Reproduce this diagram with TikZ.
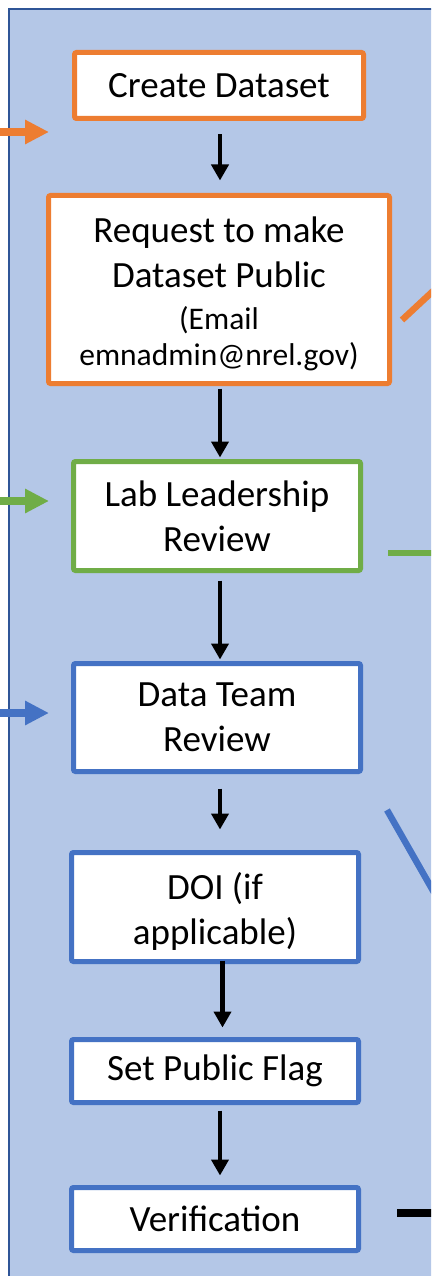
\documentclass[tikz,border=0pt]{standalone}
\usepackage{fontspec}
\setmainfont{Carlito}
\usetikzlibrary{arrows.meta}
\definecolor{panelfill}{HTML}{B4C7E7}
\definecolor{panelline}{HTML}{2F5597}
\definecolor{orng}{HTML}{ED7D31}
\definecolor{grn}{HTML}{70AD47}
\definecolor{blu}{HTML}{4472C4}
\newcommand{\bigf}{\fontsize{37}{45}\selectfont}
\newcommand{\smallf}{\fontsize{31.5}{36}\selectfont}
\begin{document}
\begin{tikzpicture}[x=1pt,y=-1pt,
  box/.style={draw, fill=white, line width=5pt, rounded corners=2pt, inner sep=0pt,
    align=center, font=\bigf, text=black},
  arr/.style={line width=4.5pt, -{Triangle[length=16pt,width=17pt]}},
  inarr/.style={line width=8pt, -{Triangle[length=24pt,width=23pt]}},
  outline/.style={line width=6.5pt}]
\clip (0,0) rectangle (431,1276);
\fill[white] (0,0) rectangle (431,1276);
\draw[panelline, line width=2pt, fill=panelfill] (9,9) rectangle (470,1300);

% boxes
\node[box, draw=orng, minimum width=289pt, minimum height=66pt] (create) at (219,85.5) {Create Dataset};
\node[box, draw=orng, minimum width=341pt, minimum height=188pt] (req) at (219,289.5)
  {\rule{0pt}{34pt}Request to make\\Dataset Public\\[-3pt]\smallf (Email\\[-9pt]\smallf emnadmin@nrel.gov)};
\node[box, draw=grn, minimum width=287pt, minimum height=109pt] (lab) at (217,516) {Lab Leadership\\Review};
\node[box, draw=blu, minimum width=287pt, minimum height=108pt] (data) at (217,717.5) {Data Team\\Review};
\node[box, draw=blu, minimum width=287pt, minimum height=109pt] (doi) at (215,907) {\rule{0pt}{35pt}DOI (if\\applicable)};
\node[box, draw=blu, minimum width=287pt, minimum height=63pt] (flag) at (215,1071) {Set Public Flag};
\node[box, draw=blu, minimum width=287pt, minimum height=63pt] (verif) at (215,1219) {Verification};

% vertical arrows
\coordinate (ax) at (220,0);
\coordinate (bx) at (222.5,0);
\draw[arr, shorten <=13.5pt, shorten >=12.5pt] (create.south -| ax) -- (req.north -| ax);
\draw[arr, shorten <=2.5pt, shorten >=1.5pt] (req.south -| ax) -- (lab.north -| ax);
\draw[arr, shorten <=7.5pt, shorten >=1.5pt] (lab.south -| ax) -- (data.north -| ax);
\draw[arr, shorten <=14.5pt, shorten >=20.5pt] (data.south -| ax) -- (doi.north -| ax);
\draw[arr, shorten <=-3.5pt, shorten >=9.5pt] (doi.south -| bx) -- (flag.north -| bx);
\draw[arr, shorten <=5.5pt, shorten >=9.5pt] (flag.south -| ax) -- (verif.north -| ax);

% incoming arrows on the left
\coordinate (oa) at (-2,132);  \coordinate (ob) at (49,132);
\coordinate (ga) at (-2,501);  \coordinate (gb) at (49,501);
\coordinate (ba) at (-2,713);  \coordinate (bb) at (49,713);
\draw[inarr, orng] (oa) -- (ob);
\draw[inarr, grn] (ga) -- (gb);
\draw[inarr, blu] (ba) -- (bb);

% outgoing lines on the right
\coordinate (or1) at (402,320);  \coordinate (or2) at (460,266);
\coordinate (gr1) at (388,553);  \coordinate (gr2) at (460,553);
\coordinate (br1) at (387,810);  \coordinate (br2) at (460,938);
\coordinate (kr1) at (397,1213); \coordinate (kr2) at (460,1213);
\draw[outline, orng] (or1) -- (or2);
\draw[outline, grn] (gr1) -- (gr2);
\draw[outline, blu] (br1) -- (br2);
\draw[line width=8pt] (kr1) -- (kr2);
\end{tikzpicture}
\end{document}
